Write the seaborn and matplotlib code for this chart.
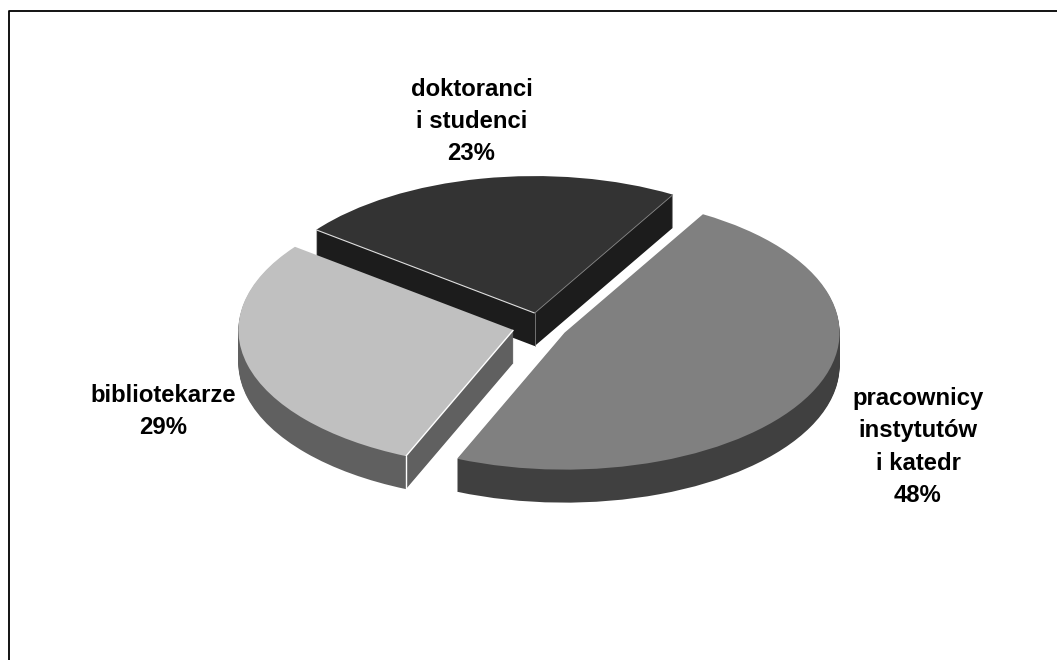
import numpy as np
import matplotlib
matplotlib.use("Agg")
import matplotlib.pyplot as plt
from matplotlib.lines import Line2D
import seaborn as sns

categories = ["pracownicy\ninstytutów\ni katedr", "doktoranci\ni studenci", "bibliotekarze"]
values = [48, 23, 29]
top_colors = ["#808080", "#333333", "#c0c0c0"]
side_colors = ["#404040", "#1c1c1c", "#606060"]
explode = [0.1, 0.1, 0.1]
draw_order = [1, 0, 2]  # doktoranci lies behind the other two
START = -113
W, H = 1057, 660
CX, CY, RX, RY, DEPTH = 540, 326.5, 275, 137, 33

sns.set_theme(style="white")
plt.rcParams["font.family"] = ["Liberation Sans", "DejaVu Sans"]

fig = plt.figure(figsize=(W / 100, H / 100), dpi=100, facecolor="white")
ax = fig.add_axes([0, 0, 1, 1])

depth = DEPTH / RY
for dz in np.arange(DEPTH, -1, -1) / RY:
    colors = top_colors if dz == 0 else side_colors
    wedges, _ = ax.pie(values, explode=explode, startangle=START, colors=colors,
                       radius=1, center=(0, -dz), wedgeprops={"linewidth": 0})
    for w, z in zip(wedges, draw_order):
        w.set_zorder(z * 10 + (2 if dz == 0 else 1))

ax.set_aspect("auto")
ax.set_xlim(-CX / RX, (W - CX) / RX)
ax.set_ylim((CY - H) / RY, CY / RY)
ax.axis("off")

# thin highlight along the visible cut edges, derived from the wedge geometry
def cut_point(w, ang):
    a = np.deg2rad(ang)
    return w.center[0] + w.r * np.cos(a), w.center[1] + w.r * np.sin(a)

def edge(w, ang, z, color, lw):
    x, y = cut_point(w, ang)
    ax.plot([w.center[0], x], [w.center[1], y], color=color, lw=lw, zorder=z, solid_capstyle="butt")

# wedges of the last (top) layer
wp, wd, wb = wedges
edge(wb, wb.theta2, 23, "white", 1.0)
x, y = cut_point(wb, wb.theta2)
ax.plot([x, x], [y, y - depth], color="white", lw=1.0, zorder=23)
edge(wd, wd.theta1, 13, "#8a8a8a", 0.6)
edge(wd, wd.theta2, 13, "#e0e0e0", 0.8)
ax.plot([wd.center[0]] * 2, [wd.center[1], wd.center[1] - depth], color="#808080", lw=0.6, zorder=13)

# frame of the chart area: open at the bottom and the right, running off the picture
frame = dict(color="black", lw=1.3, transform=fig.transFigure)
fl, ft = 8.5 / W, 1 - 10.5 / H
fig.add_artist(Line2D([fl, fl, 1], [0, ft, ft], **frame))

label_pos = [(918, 399), (471.5, 89.5), (163, 395.5)]
for text, v, (px, py) in zip(categories, values, label_pos):
    lines = text.split("\n") + [f"{v}%"]
    for i, ln in enumerate(lines):
        fig.text(px / W, 1 - (py + i * 32) / H, ln, ha="center", va="center",
                 fontsize=17.2, fontweight="bold", color="black")

fig.savefig("out.png", dpi=100, facecolor="white")
